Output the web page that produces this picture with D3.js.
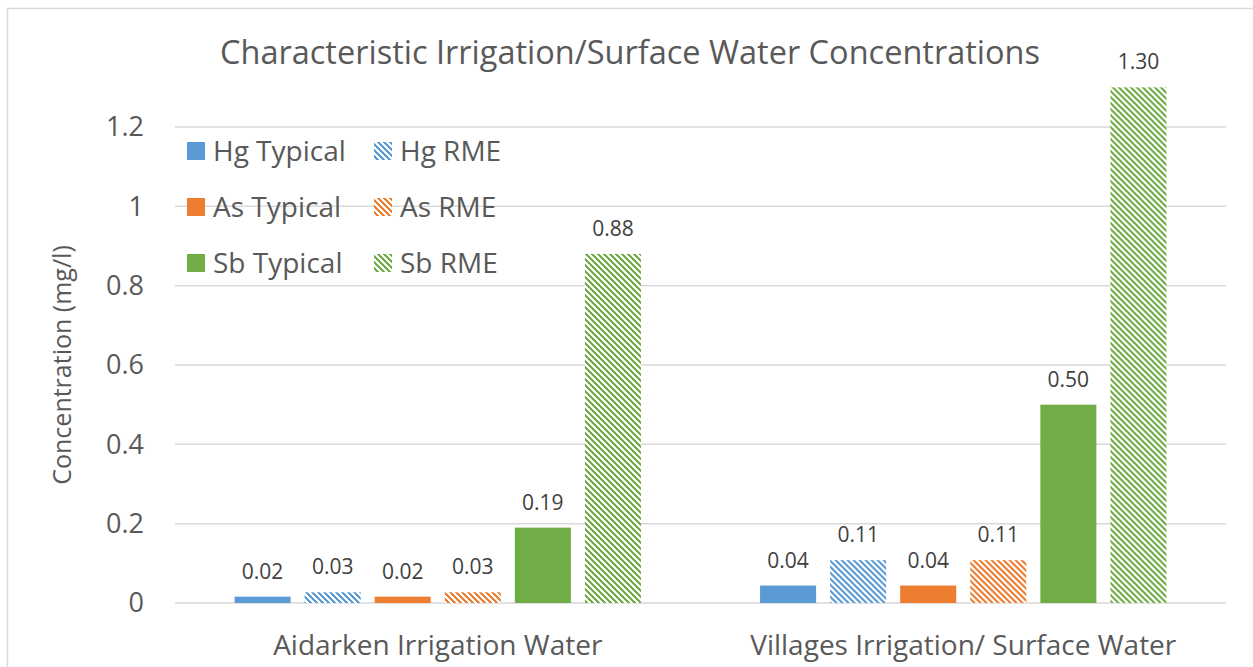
<!DOCTYPE html>
<html>
<head>
<meta charset="utf-8">
<script src="https://cdn.jsdelivr.net/npm/d3@7"></script>
<style>
  body { margin: 0; background: #fff; }
  svg text { font-family: "Open Sans", "Noto Sans", sans-serif; }
</style>
</head>
<body>
<div id="chart"></div>
<script>
// chart data
const categories = ['Aidarken Irrigation Water', 'Villages Irrigation/ Surface Water'];
const seriesNames = ['Hg Typical', 'Hg RME', 'As Typical', 'As RME', 'Sb Typical', 'Sb RME'];
const seriesColors = ['#5B9BD5', '#5B9BD5', '#ED7D31', '#ED7D31', '#70AD47', '#70AD47'];
const seriesHatched = [false, true, false, true, false, true];
const aidarkenValues = [0.016, 0.027, 0.016, 0.027, 0.19, 0.88];
const villagesValues = [0.044, 0.108, 0.044, 0.108, 0.50, 1.30];
const yTicks = [0, 0.2, 0.4, 0.6, 0.8, 1, 1.2];

const width = 1253, height = 667;
const margin = { top: 127, right: 27, bottom: 64, left: 175 };

const svg = d3.select('#chart')
    .append('svg')
    .attr('width', width)
    .attr('height', height);

// hatch patterns (wide downward diagonal), built pixel by pixel so it stays crisp
const P = 6;
const defs = svg.append('defs');
const cells = [];
for (let r = 0; r < P; r++) {
    for (let k = 0; k < 3; k++) cells.push({ r, c: (r + k) % P });
}
['#5B9BD5', '#ED7D31', '#70AD47'].forEach((col, i) => {
    const p = defs.append('pattern')
        .attr('id', 'hatch' + i)
        .attr('patternUnits', 'userSpaceOnUse')
        .attr('width', P)
        .attr('height', P);
    p.append('rect').attr('width', P).attr('height', P).attr('fill', '#fff');
    p.selectAll('rect.px')
        .data(cells)
        .join('rect')
        .attr('class', 'px')
        .attr('x', d => d.c)
        .attr('y', d => d.r)
        .attr('width', 1)
        .attr('height', 1)
        .attr('shape-rendering', 'crispEdges')
        .attr('fill', col);
});
const hatchId = { '#5B9BD5': 'hatch0', '#ED7D31': 'hatch1', '#70AD47': 'hatch2' };

// outer chart border
svg.append('rect')
    .attr('x', 7.5).attr('y', 8.5)
    .attr('width', 1260).attr('height', 700)
    .attr('fill', 'none')
    .attr('stroke', '#d9d9d9')
    .attr('stroke-width', 1.5);

// scales
const y = d3.scaleLinear()
    .domain([0, 1.2])
    .range([603, margin.top]);

const x0 = d3.scaleBand()
    .domain(categories)
    .range([margin.left, width - margin.right])
    .padding(0);

const x1 = d3.scaleBand()
    .domain(seriesNames)
    .range([0, x0.bandwidth()])
    .paddingInner(0.2)
    .paddingOuter(0.85);

// gridlines
svg.append('g')
    .selectAll('line')
    .data(yTicks)
    .join('line')
    .attr('x1', margin.left)
    .attr('x2', width - margin.right)
    .attr('y1', d => y(d))
    .attr('y2', d => y(d))
    .attr('stroke', '#d9d9d9')
    .attr('stroke-width', 1.5);

// y tick labels
svg.append('g')
    .selectAll('text')
    .data(yTicks)
    .join('text')
    .attr('x', 144)
    .attr('y', d => y(d))
    .attr('dy', '0.35em')
    .attr('text-anchor', 'end')
    .attr('fill', '#595959')
    .attr('font-size', 27)
    .text(d => d3.format('')(d));

// bars
const data = categories.map((c, i) => ({
    category: c,
    values: (i === 0 ? aidarkenValues : villagesValues).map((v, j) => ({
        name: seriesNames[j], value: v, color: seriesColors[j], hatched: seriesHatched[j]
    }))
}));

const groups = svg.append('g')
    .selectAll('g')
    .data(data)
    .join('g')
    .attr('transform', d => `translate(${x0(d.category)},0)`);

groups.selectAll('rect')
    .data(d => d.values)
    .join('rect')
    .attr('x', d => x1(d.name))
    .attr('width', x1.bandwidth())
    .attr('y', d => y(d.value))
    .attr('height', d => y(0) - y(d.value))
    .attr('fill', d => d.hatched ? `url(#${hatchId[d.color]})` : d.color);

// data labels
groups.selectAll('text')
    .data(d => d.values)
    .join('text')
    .attr('x', d => x1(d.name) + x1.bandwidth() / 2)
    .attr('y', d => y(d.value) - 18)
    .attr('text-anchor', 'middle')
    .attr('fill', '#404040')
    .attr('font-size', 21)
    .text(d => d3.format('.2f')(d.value));

// category labels
svg.append('g')
    .selectAll('text')
    .data(categories)
    .join('text')
    .attr('x', d => x0(d) + x0.bandwidth() / 2)
    .attr('y', 645)
    .attr('dy', '0.35em')
    .attr('text-anchor', 'middle')
    .attr('fill', '#595959')
    .attr('font-size', 28)
    .text(d => d);

// axis title
svg.append('text')
    .attr('transform', 'translate(62,365) rotate(-90)')
    .attr('dy', '0.35em')
    .attr('text-anchor', 'middle')
    .attr('fill', '#595959')
    .attr('font-size', 25)
    .text('Concentration (mg/l)');

// chart title
svg.append('text')
    .attr('x', 630)
    .attr('y', 53)
    .attr('dy', '0.35em')
    .attr('text-anchor', 'middle')
    .attr('fill', '#595959')
    .attr('font-size', 32.5)
    .text('Characteristic Irrigation/Surface Water Concentrations');

// legend, two columns x three rows
const legend = svg.append('g')
    .selectAll('g')
    .data(seriesNames.map((n, i) => ({ name: n, color: seriesColors[i], hatched: seriesHatched[i], i })))
    .join('g')
    .attr('transform', d => `translate(${d.i % 2 === 0 ? 187 : 374},${151 + Math.floor(d.i / 2) * 56})`);

legend.append('rect')
    .attr('x', 0).attr('y', -9)
    .attr('width', 18).attr('height', 18)
    .attr('fill', d => d.hatched ? `url(#${hatchId[d.color]})` : d.color);

legend.append('text')
    .attr('x', 26)
    .attr('dy', '0.35em')
    .attr('fill', '#595959')
    .attr('font-size', 28)
    .text(d => d.name);
</script>
</body>
</html>
